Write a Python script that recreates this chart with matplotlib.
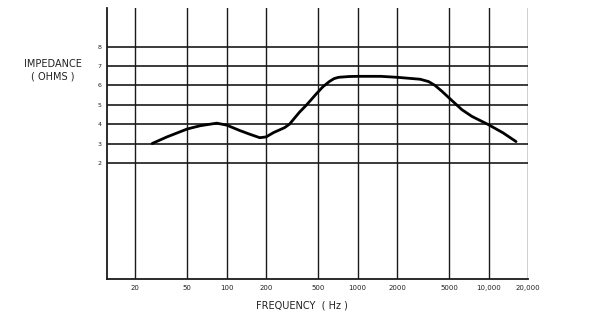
import numpy as np
import matplotlib
matplotlib.use('Agg')
import matplotlib.pyplot as plt

# impedance curve
freq = [27, 35, 50, 63, 84, 100, 126, 150, 179, 200, 229, 277, 302, 360, 406,
        486, 541, 608, 660, 716, 860, 1000, 1500, 2000, 3000, 3480, 3900, 4400,
        5000, 6250, 7460, 10000, 12900, 16200]
ohms = [3.0, 3.34, 3.75, 3.92, 4.05, 3.95, 3.67, 3.48, 3.3, 3.34, 3.57, 3.82,
        4.0, 4.62, 4.98, 5.58, 5.92, 6.2, 6.35, 6.42, 6.46, 6.47, 6.47, 6.42,
        6.32, 6.2, 6.0, 5.7, 5.35, 4.75, 4.4, 3.97, 3.55, 3.1]

x_ticks = [20, 50, 100, 200, 500, 1000, 2000, 5000, 10000, 20000]
x_labels = ['20', '50', '100', '200', '500', '1000', '2000', '5000', '10,000', '20,000']
y_ticks = [2, 3, 4, 5, 6, 7, 8]

fig = plt.figure(figsize=(6, 3.31), dpi=100)
ax = fig.add_axes([107/600, 52/331, 421/600, 271/331])

ax.set_xscale('log')
ax.set_xlim(12.2, 20000)
ax.set_ylim(-4, 10)

# grid lines
for yv in y_ticks:
    ax.axhline(yv, color='#1a1a1a', lw=1.2, zorder=1)
for xv in x_ticks:
    ax.axvline(xv, color='#1a1a1a', lw=1.0, zorder=1)

ax.plot(freq, ohms, color='black', lw=2.0, solid_joinstyle='round',
        solid_capstyle='round', zorder=3)

ax.set_xticks(x_ticks)
ax.set_xticklabels(x_labels, fontsize=5, color='#222222')
ax.xaxis.set_minor_locator(matplotlib.ticker.NullLocator())
ax.set_yticks(y_ticks)
ax.set_yticklabels([str(v) for v in y_ticks], fontsize=4.5, color='#222222')
ax.tick_params(length=0, pad=4)

for s in ['left', 'bottom']:
    ax.spines[s].set_linewidth(1.3)
    ax.spines[s].set_color('#1a1a1a')
ax.spines['top'].set_visible(False)
ax.spines['right'].set_visible(False)

fig.text(53/600, 1 - 64/331, 'IMPEDANCE', fontsize=7, ha='center', va='center',
         color='#222222')
fig.text(53/600, 1 - 77/331, '( OHMS )', fontsize=7, ha='center', va='center',
         color='#222222')
fig.text(302/600, 1 - 305/331, 'FREQUENCY  ( Hz )', fontsize=7, ha='center',
         va='center', color='#222222')

fig.savefig('out.png', dpi=100, facecolor='white')
